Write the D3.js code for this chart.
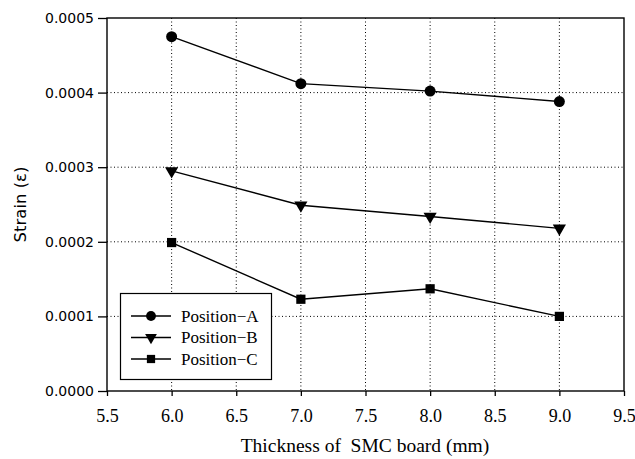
<!DOCTYPE html>
<html><head><meta charset="utf-8">
<script src="https://cdn.jsdelivr.net/npm/d3@7"></script>
<style>body{margin:0;background:#fff}</style>
</head><body>
<svg id="c" width="635" height="459"></svg>
<script>
const thickness = [6.0, 7.0, 8.0, 9.0];
const positionA = [0.000475, 0.000412, 0.000402, 0.000388];
const positionB = [0.000295, 0.000249, 0.000234, 0.000218];
const positionC = [0.000199, 0.000123, 0.000137, 0.000100];
const seriesNames = ["Position\u2212A", "Position\u2212B", "Position\u2212C"];
const xTicks = [5.5, 6.0, 6.5, 7.0, 7.5, 8.0, 8.5, 9.0, 9.5];
const yTicks = [0, 0.0001, 0.0002, 0.0003, 0.0004, 0.0005];

const svg = d3.select("#c");
const L = 107, R = 624, T = 18, B = 391;
const x = d3.scaleLinear().domain([5.5, 9.5]).range([L, R]);
const y = d3.scaleLinear().domain([0, 0.0005]).range([B, T]);
const serif = "'Liberation Serif', 'Times New Roman', serif";
const sans = "'DejaVu Sans', sans-serif";

// grid
const g = svg.append("g");
g.selectAll("line.vx").data(xTicks.filter(d => d > 5.5 && d < 9.5)).enter().append("line")
  .attr("x1", d => x(d)).attr("x2", d => x(d)).attr("y1", T).attr("y2", B)
  .attr("stroke", "#000").attr("stroke-width", 1).attr("stroke-dasharray", "1,2.5");
g.selectAll("line.hy").data(yTicks.filter(d => d > 0 && d < 0.0005)).enter().append("line")
  .attr("x1", L).attr("x2", R).attr("y1", d => y(d)).attr("y2", d => y(d))
  .attr("stroke", "#000").attr("stroke-width", 1).attr("stroke-dasharray", "1,2.5");

// frame
svg.append("rect").attr("x", L).attr("y", T).attr("width", R - L).attr("height", B - T)
  .attr("fill", "none").attr("stroke", "#000").attr("stroke-width", 1.4);

// axes
const xAxis = svg.append("g").attr("transform", `translate(0,${B})`)
  .call(d3.axisBottom(x).tickValues(xTicks).tickFormat(d3.format(".1f")).tickSize(5).tickPadding(13));
xAxis.select(".domain").remove();
xAxis.selectAll("line").attr("stroke-width", 1.3);
xAxis.selectAll("text").attr("font-family", serif).attr("font-size", 18).attr("fill", "#000");

const yAxis = svg.append("g").attr("transform", `translate(${L},0)`)
  .call(d3.axisLeft(y).tickValues(yTicks).tickFormat(d3.format(".4f")).tickSize(9).tickPadding(4));
yAxis.select(".domain").remove();
yAxis.selectAll("line").attr("stroke-width", 1.3);
yAxis.selectAll("text").attr("font-family", sans).attr("font-size", 14).attr("fill", "#000");

// titles
svg.append("text").attr("x", 365).attr("y", 452).attr("text-anchor", "middle")
  .attr("font-family", serif).attr("font-size", 19.5).attr("fill", "#000")
  .attr("xml:space", "preserve").text("Thickness of  SMC board (mm)");
svg.append("text").attr("transform", `translate(26,${(T + B) / 2}) rotate(-90)`)
  .attr("text-anchor", "middle").attr("font-family", sans).attr("font-size", 16.5).attr("fill", "#000")
  .text("Strain (\u03b5)");

const symbols = [d3.symbolCircle, d3.symbolTriangle, d3.symbolSquare];
const sizes = [95, 75, 85];
const allSeries = [positionA, positionB, positionC];
const line = d3.line().x(d => x(d[0])).y(d => y(d[1]));

function marker(sel, i, scale) {
  const sym = d3.symbol().type(symbols[i]).size(sizes[i] * scale);
  const p = sel.append("path").attr("d", sym()).attr("fill", "#000");
  return p;
}

allSeries.forEach((vals, i) => {
  const pts = thickness.map((t, j) => [t, vals[j]]);
  svg.append("path").attr("d", line(pts)).attr("fill", "none").attr("stroke", "#000").attr("stroke-width", 1.4);
  pts.forEach(p => {
    marker(svg, i, 1).attr("transform", `translate(${x(p[0])},${y(p[1])})` + (i === 1 ? " rotate(180)" : ""));
  });
});

// legend
svg.append("rect").attr("x", 120.5).attr("y", 293.5).attr("width", 151).attr("height", 86)
  .attr("fill", "#fff").attr("stroke", "#000").attr("stroke-width", 1.2);
const ly = [316, 337.5, 359];
seriesNames.forEach((name, i) => {
  svg.append("line").attr("x1", 131).attr("x2", 171).attr("y1", ly[i]).attr("y2", ly[i])
    .attr("stroke", "#000").attr("stroke-width", 1.4);
  marker(svg, i, 0.8).attr("transform", `translate(151,${ly[i]})` + (i === 1 ? " rotate(180)" : ""));
  svg.append("text").attr("x", 181).attr("y", ly[i] + 5.5).attr("font-family", serif)
    .attr("font-size", 17).attr("fill", "#000").text(name);
});
</script>
</body></html>
